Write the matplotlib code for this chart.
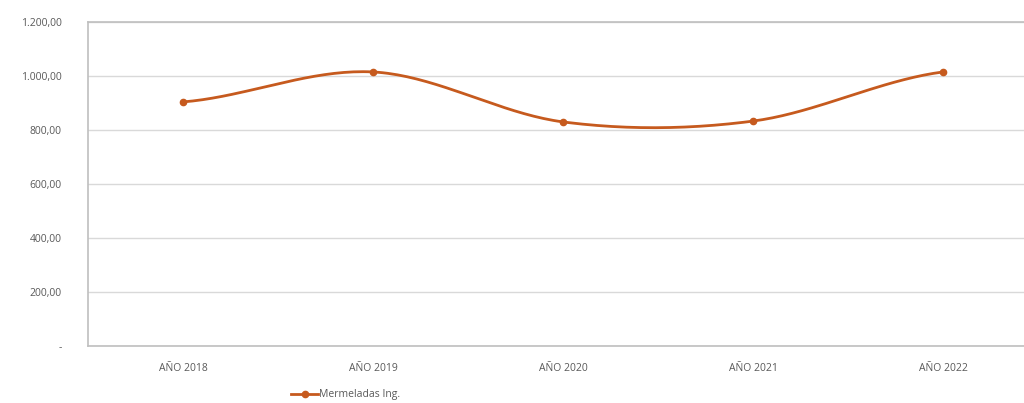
import numpy as np
import matplotlib.pyplot as plt

years = ["AÑO 2018", "AÑO 2019", "AÑO 2020", "AÑO 2021", "AÑO 2022"]
values = [904, 1015, 830, 833, 1015]
yticks = [0, 200, 400, 600, 800, 1000, 1200]
ytick_labels = ["-", "200,00", "400,00", "600,00", "800,00", "1.000,00", "1.200,00"]


def smooth(xs, ys, n=40):
    # Catmull-Rom style smoothing like the spreadsheet "smoothed line"
    xs = np.asarray(xs, float)
    ys = np.asarray(ys, float)
    px = np.concatenate([[2 * xs[0] - xs[1]], xs, [2 * xs[-1] - xs[-2]]])
    py = np.concatenate([[ys[0]], ys, [ys[-1]]])
    ox, oy = [], []
    for i in range(1, len(px) - 2):
        t = np.linspace(0, 1, n)
        for p, o in ((px, ox), (py, oy)):
            p0, p1, p2, p3 = p[i - 1], p[i], p[i + 1], p[i + 2]
            o.extend(0.5 * ((2 * p1) + (-p0 + p2) * t
                            + (2 * p0 - 5 * p1 + 4 * p2 - p3) * t ** 2
                            + (-p0 + 3 * p1 - 3 * p2 + p3) * t ** 3))
    return np.array(ox), np.array(oy)


plt.rcParams["font.family"] = ["Open Sans", "DejaVu Sans"]
fig = plt.figure(figsize=(10.24, 4.03), dpi=100)
ax = fig.add_axes([88 / 1024, 57 / 403, 950 / 1024, 324 / 403])

color = "#C65A1E"
x = np.arange(len(years))
sx, sy = smooth(x, values)
ax.plot(sx, sy, color=color, lw=2.0, solid_capstyle="round")
ax.plot(x, values, "o", color=color, ms=4.5, label="Mermeladas Ing.")

ax.set_xlim(-0.5, len(years) - 0.5)
ax.set_ylim(0, 1200)
ax.set_yticks(yticks)
ax.set_yticklabels(ytick_labels)
ax.set_xticks(x)
ax.set_xticklabels(years)
ax.tick_params(length=0, labelsize=7.5, labelcolor="#595959")
ax.tick_params(axis="y", pad=19)
ax.tick_params(axis="x", pad=12)
ax.grid(axis="y", color="#D9D9D9", lw=1)
ax.set_axisbelow(True)
for s in ax.spines.values():
    s.set_color("#BFBFBF")
    s.set_linewidth(1.2)

line_handle = plt.Line2D([], [], color=color, lw=2.0, marker="o", ms=4.5)
fig.legend([line_handle], ["Mermeladas Ing."], loc="center left",
           bbox_to_anchor=(287 / 1024, 1 - 395 / 403), frameon=False,
           fontsize=7.5, labelcolor="#595959", handlelength=2.6,
           handletextpad=0.1, borderaxespad=0)

fig.savefig("out.png", dpi=100)
